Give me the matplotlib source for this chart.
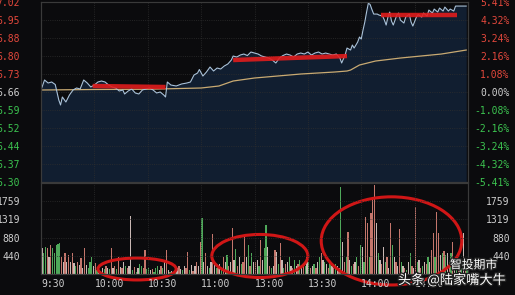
import matplotlib
matplotlib.use('Agg')
import matplotlib.pyplot as plt
from matplotlib.patches import Ellipse
import matplotlib.patheffects as pe

# 분시 차트 데이터 (읽은 값)
base = 6.66
pct_ticks = [5.41, 4.32, 3.24, 2.16, 1.08, 0.00, -1.08, -2.16, -3.24, -4.32, -5.41]
price_labels = ['7.02', '6.95', '6.88', '6.80', '6.73', '6.66', '6.59', '6.52', '6.44', '6.37', '6.30']
vol_ticks = [440, 880, 1319, 1759]
vol_labels = ['440', '880', '1319', '1759']
time_ticks = [0, 30, 60, 90, 120, 150, 180, 210]
time_labels = ['9:30', '10:00', '10:30', '11:00', '13:00', '13:30', '14:00', '14:30']

# 가격선 (분, 가격)
price_t = [0, 2, 4, 6, 8, 10, 11, 12, 14, 16, 18, 20, 22, 24, 26, 28, 30, 32, 34, 36,
           38, 40, 42, 44, 46, 47, 49, 51, 53, 55, 57, 59, 61, 63, 65, 67, 69, 70, 71, 73,
           76, 79, 82, 84, 86, 88, 89, 91, 93, 95, 97, 99, 101, 103, 105, 107, 108, 110, 112, 114,
           116, 118, 120, 122, 124, 126, 128, 130, 132, 134, 136, 138, 140, 142, 144, 146, 148, 150, 152, 154,
           156, 158, 160, 162, 164, 166, 168, 169, 171, 172, 174, 175, 176, 178, 179, 180, 181, 182, 183, 184,
           185, 186, 187, 189, 190, 192, 193, 194, 195, 196, 197, 198, 200, 201, 202, 204, 205, 207, 208, 209,
           211, 212, 214, 215, 217, 218, 220, 221, 223, 224, 226, 227, 229, 230, 232, 233, 235, 237, 239]
price_v = [6.668, 6.708, 6.696, 6.700, 6.690, 6.628, 6.608, 6.640, 6.620, 6.648, 6.668, 6.676, 6.672, 6.708, 6.696, 6.680, 6.688, 6.700, 6.704, 6.700,
           6.688, 6.680, 6.676, 6.664, 6.668, 6.652, 6.664, 6.672, 6.656, 6.652, 6.668, 6.672, 6.676, 6.668, 6.656, 6.660, 6.648, 6.640, 6.700, 6.688,
           6.684, 6.692, 6.696, 6.700, 6.728, 6.736, 6.750, 6.724, 6.740, 6.760, 6.744, 6.756, 6.752, 6.764, 6.772, 6.788, 6.804, 6.800, 6.808, 6.812,
           6.806, 6.820, 6.816, 6.812, 6.804, 6.800, 6.796, 6.788, 6.776, 6.796, 6.806, 6.812, 6.808, 6.800, 6.812, 6.816, 6.812, 6.820, 6.808, 6.816,
           6.820, 6.812, 6.816, 6.812, 6.808, 6.812, 6.796, 6.776, 6.810, 6.836, 6.828, 6.848, 6.836, 6.860, 6.880, 6.872, 6.908, 6.940, 6.980, 7.016,
           7.010, 6.990, 6.972, 6.972, 6.968, 6.964, 6.948, 6.928, 6.960, 6.980, 6.944, 6.928, 6.968, 6.976, 6.948, 6.936, 6.960, 6.972, 6.940, 6.924,
           6.960, 6.970, 6.960, 6.976, 6.964, 6.988, 6.976, 6.992, 6.980, 6.996, 6.984, 7.000, 6.984, 6.992, 6.984, 7.004, 7.004, 7.004, 7.004]

# 균가선
avg_t = [0, 30, 60, 90, 100, 108, 120, 146, 165, 172, 174, 179, 188, 202, 225, 239]
avg_v = [6.668, 6.670, 6.671, 6.676, 6.684, 6.704, 6.716, 6.732, 6.740, 6.744, 6.748, 6.768, 6.784, 6.796, 6.812, 6.828]

# 거래량 (1분씩)
volume = [630, 500, 650, 630, 400, 700, 630, 500, 700, 730, 750, 410, 300, 500, 290, 460, 300, 500, 260, 200,
          290, 220, 390, 150, 630, 220, 150, 290, 410, 200, 260, 100, 150, 80, 150, 120, 200, 150, 120, 630,
          150, 200, 120, 410, 180, 150, 290, 200, 150, 200, 1400, 100, 180, 60, 150, 230, 200, 150, 580, 120,
          150, 100, 120, 60, 150, 200, 100, 200, 150, 300, 580, 100, 60, 80, 30, 100, 150, 200, 120, 100,
          200, 150, 530, 100, 220, 80, 200, 300, 200, 770, 1350, 300, 500, 200, 150, 300, 970, 300, 150, 200,
          250, 150, 400, 300, 450, 200, 300, 1110, 350, 600, 200, 400, 250, 300, 890, 400, 700, 200, 500, 300,
          290, 340, 200, 820, 350, 630, 1190, 650, 200, 150, 200, 580, 530, 250, 750, 350, 150, 250, 300, 410,
          200, 150, 350, 200, 250, 350, 150, 250, 200, 400, 300, 150, 200, 250, 150, 300, 400, 500, 350, 300,
          250, 150, 300, 200, 150, 250, 200, 150, 2100, 770, 300, 400, 1010, 350, 200, 250, 300, 410, 200, 700,
          650, 300, 1380, 1230, 400, 1470, 1790, 2150, 1230, 500, 350, 250, 650, 300, 400, 150, 1230, 700, 400, 300,
          200, 1090, 300, 200, 150, 100, 300, 500, 200, 150, 1620, 300, 350, 150, 200, 300, 250, 400, 300, 580,
          990, 400, 1500, 990, 450, 500, 550, 450, 500, 300, 500, 770, 300, 350, 250, 300, 150, 990, 200, 100]
vol_color = ('wggrwrgggggrwrwrwrwg' 'rwrwrwgggwrgwrwgrwgr' 'wrgrwrwgrwwgrgwggrrg' 'gwrgggwrgwrwgwrgwrwg'
             'wrrgwrwrwrgwrwgwrwgr' 'wgrwgrwrwgrwgrrwgrgw' 'rwgrwggwrgwrwgrwgrwg' 'wrgwrgwrgwgrwgrwgrwg'
             'wrgwrgwrgwrgrwgrwgrg' 'wgrrgrrrwgwrwgrwrgwr' 'wrgwrgwgrwrgwrgwrgwr' 'rgrrwgrgwrgrwgrwgwrg')

# 빨간 표시선 (시작분, 끝분, 시작가격, 끝가격)
marks = [(29, 70, 6.684, 6.680), (108, 172, 6.788, 6.804), (191, 234, 6.968, 6.968)]
# 빨간 타원 (중심분, 중심거래량, 폭, 높이)
circles = [(54, 121, 44, 530), (123, 436, 54, 1040), (197, 800, 79, 2130)]

bg = '#0b0b0d'
grid_c = '#2e2e2e'
red = '#e4483c'
green = '#3cc450'
white = '#cfcfcf'
cmap = {'r': '#c4766c', 'g': '#4fa85a', 'w': '#c9b8b4'}
mono = 'DejaVu Sans Mono'

fig = plt.figure(figsize=(5.15, 2.95), dpi=100, facecolor=bg)
ax = fig.add_axes([41 / 515, 1 - 182 / 295, 427 / 515, 180 / 295], facecolor=bg)
axv = fig.add_axes([41 / 515, 1 - 274 / 295, 427 / 515, 91 / 295], facecolor=bg)

lo = base * (1 - 0.0541)
hi = base * (1 + 0.0541)
tick_prices = [base * (1 + p / 100) for p in pct_ticks]

# 가격 패널
ax.fill_between(price_t, price_v, lo, color='#111e30', lw=0)
ax.plot(avg_t, avg_v, color='#c9aa72', lw=0.9)
ax.plot(price_t, price_v, color='#a9c2da', lw=0.8)
for t0, t1, p0, p1 in marks:
    ax.plot([t0, t1], [p0, p1], color='#e01c1c', lw=3.2, alpha=0.9, solid_capstyle='butt')
ax.set_xlim(0, 240)
ax.set_ylim(lo, hi)
ax.set_yticks(tick_prices)
ax.set_yticklabels(price_labels, family=mono, fontsize=7)
ax.set_xticks(time_ticks[1:])
ax.tick_params(axis='x', length=0, labelbottom=False)
ax.tick_params(axis='y', length=0, pad=15)
for lab, p in zip(ax.get_yticklabels(), pct_ticks):
    lab.set_color(red if p > 0 else (green if p < 0 else white))
ax.grid(True, color=grid_c, lw=0.6, ls=':')

ax2 = ax.twinx()
ax2.set_ylim(lo, hi)
ax2.set_yticks(tick_prices)
ax2.set_yticklabels(['%.2f%%' % p for p in pct_ticks], family=mono, fontsize=7, ha='right')
ax2.tick_params(axis='y', length=0, pad=30)
for lab, p in zip(ax2.get_yticklabels(), pct_ticks):
    lab.set_color(red if p > 0 else (green if p < 0 else white))

# 거래량 패널
mins = list(range(len(volume)))
axv.bar([m + 0.5 for m in mins], volume, width=0.7, color=[cmap[c] for c in vol_color], lw=0)
for cx, cy, w, h in circles:
    axv.add_patch(Ellipse((cx, cy), w, h, fill=False, ec='#d01616', lw=2.2, clip_on=False))
axv.set_xlim(0, 240)
axv.set_ylim(0, 2199)
axv.set_yticks(vol_ticks)
axv.set_yticklabels(vol_labels, family=mono, fontsize=7, color=white)
axv.tick_params(axis='y', length=0, pad=15)
axv.set_xticks(time_ticks[1:])
axv.tick_params(axis='x', length=0, labelbottom=False)
axv.grid(True, color=grid_c, lw=0.6, ls=':')
axv3 = axv.twinx()
axv3.set_ylim(0, 2199)
axv3.set_yticks(vol_ticks)
axv3.set_yticklabels(vol_labels, family=mono, fontsize=7, color=white, ha='right')
axv3.tick_params(axis='y', length=0, pad=30)

for t, lab in zip(time_ticks, time_labels):
    axv.text(t, -0.11, lab, transform=axv.get_xaxis_transform(), family=mono, fontsize=7,
             color=white, ha='left', va='center')

for a in (ax, ax2, axv, axv3):
    for s in a.spines.values():
        s.set_color('#3a3a3a')
        s.set_linewidth(0.8)

# 워터마크
shadow = [pe.withStroke(linewidth=2, foreground='#222222')]
fig.text(450 / 515, 1 - 265 / 295, '智投期市', family=['Noto Sans CJK SC', 'DejaVu Sans'],
         fontsize=8.5, color='white', va='center', path_effects=shadow)
fig.text(398 / 515, 1 - 280 / 295, '头条 @陆家嘴大牛', family=['Noto Sans CJK SC', 'DejaVu Sans'],
         fontsize=9.5, color='white', va='center', path_effects=shadow)

fig.savefig('out.png', dpi=100, facecolor=bg)
